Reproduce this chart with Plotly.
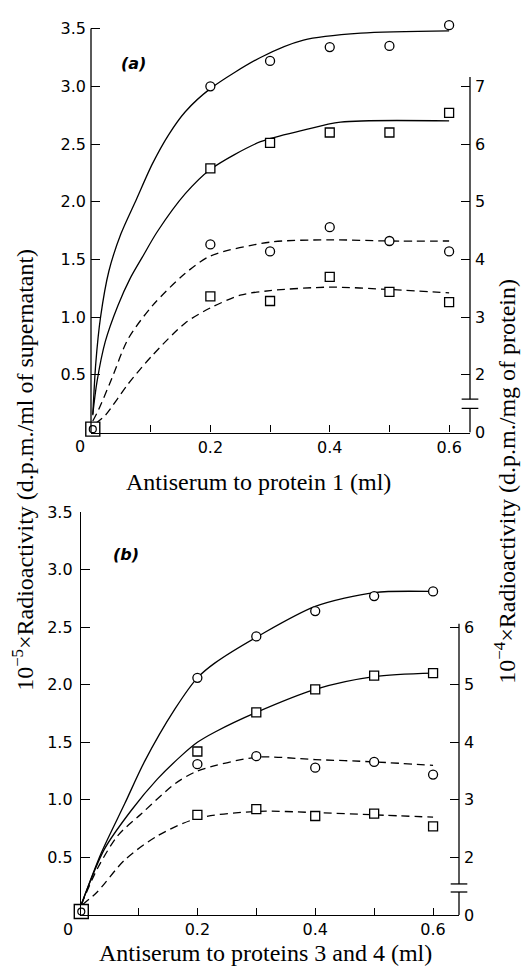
import plotly.graph_objects as go

# ---------------- data (left-axis units, 10^-5 x d.p.m./ml) ----------------
dose = [0.2, 0.3, 0.4, 0.5, 0.6]
ctrl_x = [0.003]
ctrl_y = [0.03]

# panel (a): antiserum to protein 1
a_circ_solid = [3.00, 3.22, 3.34, 3.35, 3.53]
a_sq_solid = [2.29, 2.51, 2.60, 2.60, 2.77]
a_circ_dash = [1.63, 1.57, 1.78, 1.66, 1.57]
a_sq_dash = [1.18, 1.14, 1.35, 1.22, 1.13]

# panel (b): antiserum to proteins 3 and 4
b_circ_solid = [2.06, 2.42, 2.64, 2.77, 2.81]
b_sq_solid = [1.42, 1.76, 1.96, 2.08, 2.10]
b_circ_dash = [1.31, 1.38, 1.28, 1.33, 1.22]
b_sq_dash = [0.87, 0.92, 0.86, 0.88, 0.77]

# hand-drawn curves
a1_x = [0.003, 0.008, 0.016, 0.03, 0.05, 0.076, 0.103, 0.13, 0.158, 0.2, 0.284, 0.356, 0.452, 0.6]
a1_y = [0.15, 0.60, 1.00, 1.40, 1.72, 2.02, 2.33, 2.58, 2.78, 2.98, 3.25, 3.40, 3.46, 3.48]
a2_x = [0.003, 0.01, 0.024, 0.045, 0.065, 0.086, 0.111, 0.158, 0.2, 0.284, 0.356, 0.418, 0.6]
a2_y = [0.16, 0.44, 0.79, 1.10, 1.33, 1.52, 1.74, 2.07, 2.28, 2.52, 2.62, 2.69, 2.70]
a3_x = [0.003, 0.012, 0.035, 0.062, 0.103, 0.158, 0.2, 0.3, 0.4, 0.5, 0.6]
a3_y = [0.10, 0.19, 0.47, 0.81, 1.10, 1.38, 1.53, 1.65, 1.67, 1.66, 1.66]
a4_x = [0.008, 0.024, 0.062, 0.103, 0.158, 0.2, 0.25, 0.3, 0.4, 0.5, 0.6]
a4_y = [0.08, 0.15, 0.42, 0.67, 0.95, 1.08, 1.19, 1.23, 1.26, 1.24, 1.21]

b1_x = [0.003, 0.037, 0.077, 0.11, 0.162, 0.2, 0.23, 0.306, 0.4, 0.5, 0.595]
b1_y = [0.09, 0.54, 0.97, 1.33, 1.79, 2.06, 2.19, 2.43, 2.68, 2.80, 2.81]
b2_x = [0.003, 0.042, 0.088, 0.132, 0.172, 0.2, 0.23, 0.3, 0.4, 0.5, 0.6]
b2_y = [0.09, 0.57, 0.91, 1.18, 1.38, 1.50, 1.59, 1.76, 1.96, 2.07, 2.10]
b3_x = [0.003, 0.03, 0.065, 0.105, 0.162, 0.2, 0.3, 0.4, 0.5, 0.6]
b3_y = [0.09, 0.40, 0.69, 0.88, 1.14, 1.25, 1.37, 1.35, 1.33, 1.30]
b4_x = [0.005, 0.03, 0.077, 0.133, 0.2, 0.3, 0.4, 0.5, 0.6]
b4_y = [0.09, 0.20, 0.48, 0.69, 0.84, 0.90, 0.89, 0.87, 0.85]

# tick labels
x_tickvals = [0.2, 0.4, 0.6]
x_ticktext = ["0.2", "0.4", "0.6"]
x_minorvals = [0.1, 0.3, 0.5]
y_tickvals = [0.5, 1.0, 1.5, 2.0, 2.5, 3.0, 3.5]
y_ticktext = ["0.5", "1.0", "1.5", "2.0", "2.5", "3.0", "3.5"]
ra_tickvals = [1, 2, 3, 4, 5, 6, 7]       # right axis (broken: bottom "0")
ra_ticktext = ["0", "2", "3", "4", "5", "6", "7"]
rb_tickvals = [1, 2, 3, 4, 5, 6]
rb_ticktext = ["0", "2", "3", "4", "5", "6"]

W, H = 521, 977
def px(x):
    return x / W
def py(y):
    return 1 - y / H

BLACK = "black"
LW = 1.3
DASH = "8px,5px"
TICKFONT = dict(family="DejaVu Sans", size=16, color=BLACK)

# panel (a) y scale: 0 at 432 px, 3.5 at 20 px; range slightly above 3.5 so the top point shows
A_PPU = (432 - 20) / 3.5
A_TOP = 3.56

fig = go.Figure()

def add_panel(xa, ya, curves, markers):
    for (cx, cy, dash) in curves:
        fig.add_trace(go.Scatter(x=cx, y=cy, mode="lines", xaxis=xa, yaxis=ya,
                                 line=dict(color=BLACK, width=LW, dash=dash, shape="spline", smoothing=0.8),
                                 hoverinfo="skip"))
    for (my, sym) in markers:
        fig.add_trace(go.Scatter(x=dose, y=my, mode="markers", xaxis=xa, yaxis=ya, cliponaxis=False,
                                 marker=dict(symbol=sym, size=9, color="white",
                                             line=dict(color=BLACK, width=1.3))))
    fig.add_trace(go.Scatter(x=ctrl_x, y=ctrl_y, mode="markers", xaxis=xa, yaxis=ya, cliponaxis=False,
                             marker=dict(symbol="square", size=14, color="white",
                                         line=dict(color=BLACK, width=1.4))))
    fig.add_trace(go.Scatter(x=ctrl_x, y=ctrl_y, mode="markers", xaxis=xa, yaxis=ya, cliponaxis=False,
                             marker=dict(symbol="circle", size=7, color="white",
                                         line=dict(color=BLACK, width=1.2))))

add_panel("x", "y",
          [(a1_x, a1_y, "solid"), (a2_x, a2_y, "solid"), (a3_x, a3_y, DASH), (a4_x, a4_y, DASH)],
          [(a_circ_solid, "circle"), (a_sq_solid, "square"), (a_circ_dash, "circle"), (a_sq_dash, "square")])
add_panel("x2", "y2",
          [(b1_x, b1_y, "solid"), (b2_x, b2_y, "solid"), (b3_x, b3_y, DASH), (b4_x, b4_y, DASH)],
          [(b_circ_solid, "circle"), (b_sq_solid, "square"), (b_circ_dash, "circle"), (b_sq_dash, "square")])

common_x = dict(showline=True, linecolor=BLACK, linewidth=LW, ticks="inside", ticklen=7,
                tickwidth=LW, tickcolor=BLACK, tickvals=x_tickvals, ticktext=x_ticktext,
                minor=dict(tickvals=x_minorvals, ticks="inside", ticklen=7, tickwidth=LW,
                           tickcolor=BLACK, showgrid=False),
                showgrid=False, zeroline=False, tickfont=TICKFONT, ticklabelstandoff=0)
common_y = dict(linecolor=BLACK, linewidth=LW, ticks="inside", ticklen=9,
                tickwidth=LW, tickcolor=BLACK, tickvals=y_tickvals, ticktext=y_ticktext,
                showgrid=False, zeroline=False, tickfont=TICKFONT, ticklabelstandoff=4)
common_r = dict(side="right", showline=False, ticks="inside", ticklen=9, tickwidth=LW,
                tickcolor=BLACK, showgrid=False, zeroline=False, tickfont=TICKFONT,
                ticklabelstandoff=4)

fig.update_layout(
    width=W, height=H, margin=dict(l=0, r=0, t=0, b=0),
    paper_bgcolor="white", plot_bgcolor="white", showlegend=False,
    xaxis=dict(domain=[px(91), px(470)], range=[0, 0.635], anchor="y", **common_x),
    yaxis=dict(domain=[py(432), py(432 - A_TOP * A_PPU)], anchor="x", range=[0, A_TOP],
               showline=False, **common_y),
    yaxis3=dict(overlaying="y", anchor="x", range=[1, 2 * A_TOP + 1],
                tickvals=ra_tickvals, ticktext=ra_ticktext, **common_r),
    xaxis2=dict(domain=[px(81), px(459)], range=[0.0025, 0.644], anchor="y2", **common_x),
    yaxis2=dict(domain=[py(924), py(513)], anchor="x2", range=[0, 3.5], showline=True, **common_y),
    yaxis4=dict(overlaying="y2", anchor="x2", range=[1, 8],
                tickvals=rb_tickvals, ticktext=rb_ticktext, **common_r),
)

# dummy traces so overlay axes render
fig.add_trace(go.Scatter(x=[None], y=[None], xaxis="x", yaxis="y3", showlegend=False))
fig.add_trace(go.Scatter(x=[None], y=[None], xaxis="x2", yaxis="y4", showlegend=False))

ln = dict(color=BLACK, width=LW)
# left axis line of panel (a), ending at the 3.5 tick
fig.add_shape(type="line", xref="x domain", yref="y", x0=0, x1=0, y0=0, y1=3.5, line=ln)

# right-axis lines with break marks
def right_axis(xref, yref, top, brk_hi, brk_lo):
    fig.add_shape(type="line", xref=xref, yref=yref, x0=1, x1=1, y0=brk_hi, y1=top, line=ln)
    fig.add_shape(type="line", xref=xref, yref=yref, x0=1, x1=1, y0=0, y1=brk_lo, line=ln)
    for yb in (brk_hi, brk_lo):
        fig.add_shape(type="line", xref=xref, yref=yref, x0=0.978, x1=1.022, y0=yb, y1=yb, line=ln)

right_axis("x domain", "y", 3.08, 0.29, 0.21)
right_axis("x2 domain", "y2", 2.53, 0.27, 0.20)

ann = []
def text(x, y, t, size=16, family="DejaVu Sans", angle=0):
    ann.append(dict(x=px(x), y=py(y), xref="paper", yref="paper", text=t, showarrow=False,
                    textangle=angle, xanchor="center", yanchor="middle",
                    font=dict(family=family, size=size, color=BLACK)))

text(80, 446, "0")
text(68, 939, "0")
text(133, 56, "<b><i>(a)</i></b>", size=16)
text(126, 556, "<b><i>(b)</i></b>", size=16)
SERIF = "Liberation Serif"
text(258, 482, "Antiserum to protein 1 (ml)", size=24, family=SERIF)
text(265, 963, "Antiserum to proteins 3 and 4 (ml)", size=24, family=SERIF)
text(23, 470, "10<sup>−5</sup>×Radioactivity (d.p.m./ml of supernatant)", size=24, family=SERIF, angle=-90)
text(505, 482, "10<sup>−4</sup>×Radioactivity (d.p.m./mg of protein)", size=24, family=SERIF, angle=-90)
fig.update_layout(annotations=ann)

fig.write_html("out.html", config={"displayModeBar": False},
               post_script="document.body.style.margin='0';")
